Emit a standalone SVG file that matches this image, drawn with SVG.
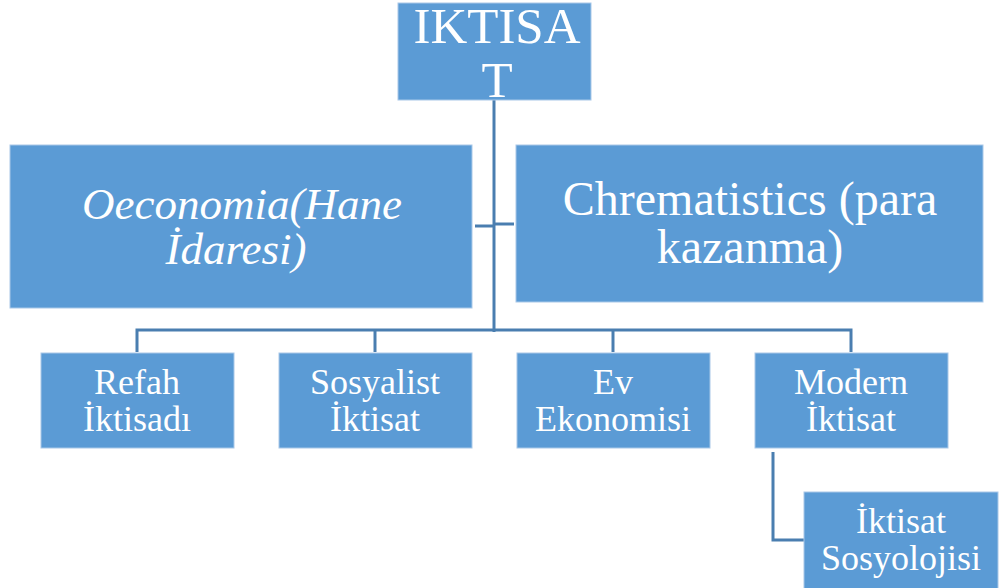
<svg xmlns="http://www.w3.org/2000/svg" width="1001" height="588" viewBox="0 0 1001 588">
<rect width="1001" height="588" fill="#fff"/>
<g id="connectors" fill="none" stroke="#4A7EB0" stroke-width="3">
<path d="M494 100V332"/>
<path d="M475 226H494"/>
<path d="M494 224H514"/>
<path d="M137 352V330H851V352"/>
<path d="M375 330V352"/>
<path d="M613 330V352"/>
<path d="M773 452V540H804"/>
</g>
<g fill="#5B9BD5" stroke="#A9C8E8" stroke-width="1">
<rect id="iktisat-box" x="398" y="3" width="193" height="97"/>
<rect id="oeconomia-box" x="10" y="145" width="462" height="163"/>
<rect id="chrematistics-box" x="516" y="145" width="467" height="157"/>
<rect id="refah-box" x="41" y="353" width="193" height="95"/>
<rect id="sosyalist-box" x="279" y="353" width="193" height="95"/>
<rect id="ev-box" x="517" y="353" width="193" height="95"/>
<rect id="modern-box" x="755" y="353" width="193" height="95"/>
<rect id="sosyoloji-box" x="804" y="492" width="194" height="100"/>
</g>
<g fill="#fff" text-anchor="middle" font-family="Liberation Serif">
<g id="iktisat">
<text x="497" y="43" font-size="51" font-family="Liberation Serif">IKTISA</text>
<text x="497" y="97" font-size="51" font-family="Liberation Serif">T</text>
</g>
<g id="oeconomia">
<text x="242" y="219" font-size="45" font-style="italic" font-family="Liberation Serif">Oeconomia(Hane</text>
<text x="236" y="264" font-size="45" font-style="italic" font-family="Liberation Serif">İdaresi)</text>
</g>
<g id="chrematistics">
<text x="750" y="215" font-size="48" font-family="Liberation Serif">Chrematistics (para</text>
<text x="750" y="263" font-size="48" font-family="Liberation Serif">kazanma)</text>
</g>
<g id="refah">
<text x="137" y="394" font-size="36" font-family="Liberation Serif">Refah</text>
<text x="137" y="431" font-size="36" font-family="Liberation Serif">İktisadı</text>
</g>
<g id="sosyalist">
<text x="375" y="394" font-size="36" font-family="Liberation Serif">Sosyalist</text>
<text x="375" y="431" font-size="36" font-family="Liberation Serif">İktisat</text>
</g>
<g id="ev">
<text x="613" y="394" font-size="36" font-family="Liberation Serif">Ev</text>
<text x="613" y="431" font-size="36" font-family="Liberation Serif">Ekonomisi</text>
</g>
<g id="modern">
<text x="851" y="394" font-size="36" font-family="Liberation Serif">Modern</text>
<text x="851" y="431" font-size="36" font-family="Liberation Serif">İktisat</text>
</g>
<g id="sosyoloji">
<text x="901" y="533" font-size="36" font-family="Liberation Serif">İktisat</text>
<text x="901" y="570" font-size="36" font-family="Liberation Serif">Sosyolojisi</text>
</g>
</g>
</svg>
